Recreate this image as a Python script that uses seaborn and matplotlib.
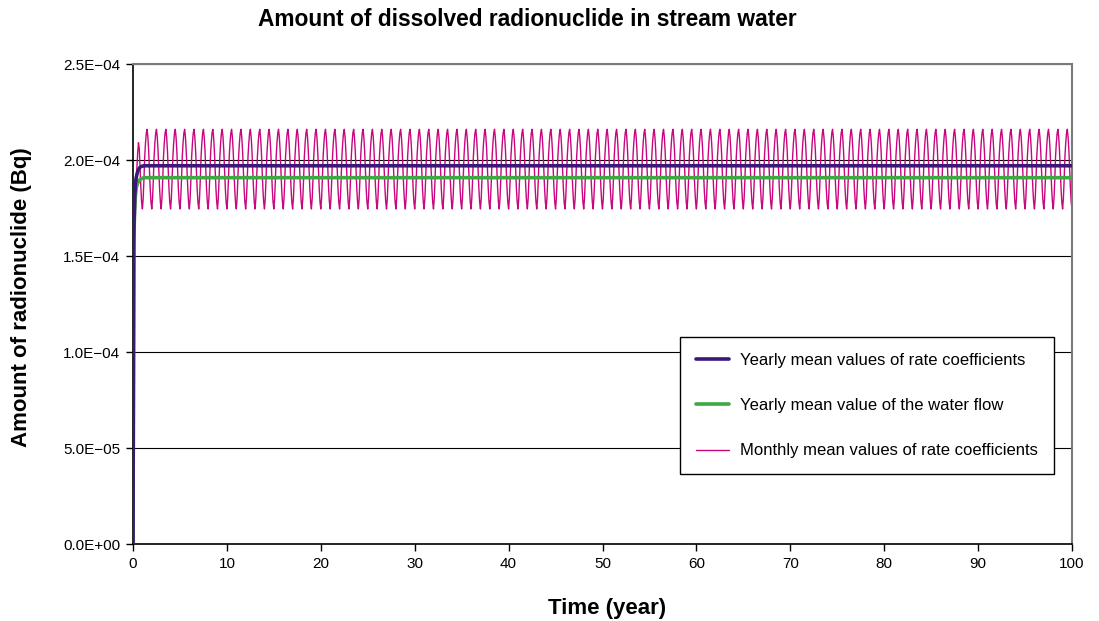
import numpy as np
import pandas as pd
import matplotlib
matplotlib.use("Agg")
import matplotlib.pyplot as plt
from matplotlib.ticker import FuncFormatter
import seaborn as sns

# Monthly output, time in years
MONTHS_PER_YEAR = 12
N_YEARS = 100

# Monthly mean values of rate coefficients (Bq): first year of build-up
monthly_first_year = [0.0, 1.62e-4, 1.60e-4, 1.70e-4, 1.84e-4, 1.96e-4,
                      2.04e-4, 2.09e-4, 2.06e-4, 1.96e-4, 1.86e-4, 1.78e-4]
# ...then the same annual cycle every following year
monthly_cycle = [1.745e-4, 1.80e-4, 1.90e-4, 2.02e-4, 2.09e-4, 2.14e-4,
                 2.16e-4, 2.12e-4, 2.05e-4, 1.95e-4, 1.85e-4, 1.78e-4]

# Yearly mean values of rate coefficients (Bq): build-up months, then steady level
yearly_rate_startup = [0.0, 1.62e-4, 1.80e-4, 1.87e-4, 1.905e-4, 1.925e-4,
                       1.94e-4, 1.95e-4, 1.957e-4, 1.962e-4, 1.965e-4, 1.967e-4,
                       1.968e-4, 1.969e-4, 1.97e-4, 1.97e-4, 1.97e-4]
yearly_rate_steady = 1.97e-4

# Yearly mean value of the water flow (Bq): build-up months, then steady level
water_flow_startup = [0.0, 1.56e-4, 1.74e-4, 1.81e-4, 1.85e-4, 1.87e-4,
                      1.88e-4, 1.888e-4, 1.894e-4, 1.898e-4, 1.901e-4,
                      1.903e-4, 1.905e-4, 1.906e-4, 1.907e-4, 1.908e-4,
                      1.908e-4, 1.908e-4, 1.908e-4, 1.908e-4]
water_flow_steady = 1.908e-4

series_names = ["Yearly mean values of rate coefficients",
                "Yearly mean value of the water flow",
                "Monthly mean values of rate coefficients"]

x_ticks = list(range(0, 101, 10))
y_ticks = [0.0, 5.0e-5, 1.0e-4, 1.5e-4, 2.0e-4, 2.5e-4]

# ---- assemble the series ----
monthly_vals = monthly_first_year + monthly_cycle * (N_YEARS - 1) + [monthly_cycle[0]]
monthly_t = np.arange(len(monthly_vals)) / MONTHS_PER_YEAR

rate_vals = yearly_rate_startup + [yearly_rate_steady]
rate_t = list(np.arange(len(yearly_rate_startup)) / MONTHS_PER_YEAR) + [N_YEARS]

flow_vals = water_flow_startup + [water_flow_steady]
flow_t = list(np.arange(len(water_flow_startup)) / MONTHS_PER_YEAR) + [N_YEARS]

df_monthly = pd.DataFrame({"t": monthly_t, "v": monthly_vals})
df_rate = pd.DataFrame({"t": rate_t, "v": rate_vals})
df_flow = pd.DataFrame({"t": flow_t, "v": flow_vals})

sns.set_theme(style="white")
plt.rcParams["font.family"] = ["Liberation Sans", "DejaVu Sans"]
plt.rcParams.update({"text.color": "black", "axes.labelcolor": "black",
                     "xtick.color": "black", "ytick.color": "black"})

fig = plt.figure(figsize=(10.99, 6.21), dpi=100)
ax = fig.add_axes([133 / 1099, 1 - 544 / 621, (1072 - 133) / 1099, (544 - 64) / 621])

col_rate = "#3a1878"
col_flow = "#3ea843"
col_month = "#c8067f"

sns.lineplot(data=df_monthly, x="t", y="v", ax=ax, color=col_month, lw=1.0,
             estimator=None, sort=False, label=series_names[2], zorder=2)
sns.lineplot(data=df_flow, x="t", y="v", ax=ax, color=col_flow, lw=2.6,
             estimator=None, sort=False, label=series_names[1], zorder=3)
sns.lineplot(data=df_rate, x="t", y="v", ax=ax, color=col_rate, lw=2.6,
             estimator=None, sort=False, label=series_names[0], zorder=4)

ax.set_xlim(0, 100)
ax.set_ylim(0, 2.5e-4)
ax.set_xticks(x_ticks)
ax.set_yticks(y_ticks)
ax.yaxis.set_major_formatter(FuncFormatter(lambda v, p: f"{v:.1E}".replace("-", "\u2212")))
ax.tick_params(axis="both", labelsize=11, colors="black", length=5, width=1,
               direction="out", pad=4)
ax.xaxis.set_ticks_position("bottom")
ax.yaxis.set_ticks_position("left")

ax.grid(axis="y", color="black", lw=0.8, zorder=0)
ax.grid(axis="x", visible=False)
ax.set_axisbelow(True)

ax.spines["left"].set_color("black")
ax.spines["bottom"].set_color("black")
ax.spines["left"].set_linewidth(1.2)
ax.spines["bottom"].set_linewidth(1.2)
for s in ("top", "right"):
    ax.spines[s].set_color("#7a7a7a")
    ax.spines[s].set_linewidth(1.5)

ax.set_xlabel("Time (year)", fontsize=16, fontweight="bold")
ax.set_ylabel("Amount of radionuclide (Bq)", fontsize=16, fontweight="bold")
ax.xaxis.set_label_coords(0.505, -0.112)
ax.yaxis.set_label_coords(-0.108, 0.515)

fig.text(527 / 1099, 1 - 20 / 621, "Amount of dissolved radionuclide in stream water",
         ha="center", va="center", fontsize=16.4, fontweight="bold")

handles, labels = ax.get_legend_handles_labels()
order = [labels.index(n) for n in series_names]
leg = ax.legend([handles[i] for i in order], [labels[i] for i in order],
                loc="upper left", bbox_to_anchor=(680 / 1099, 1 - 337 / 621),
                bbox_transform=fig.transFigure, fontsize=12, frameon=True,
                fancybox=False, edgecolor="black", framealpha=1,
                handlelength=2.0, labelspacing=1.82, borderpad=0.95,
                handletextpad=0.65, borderaxespad=0)
leg.get_frame().set_linewidth(1.0)

fig.savefig("out.png", dpi=100)
